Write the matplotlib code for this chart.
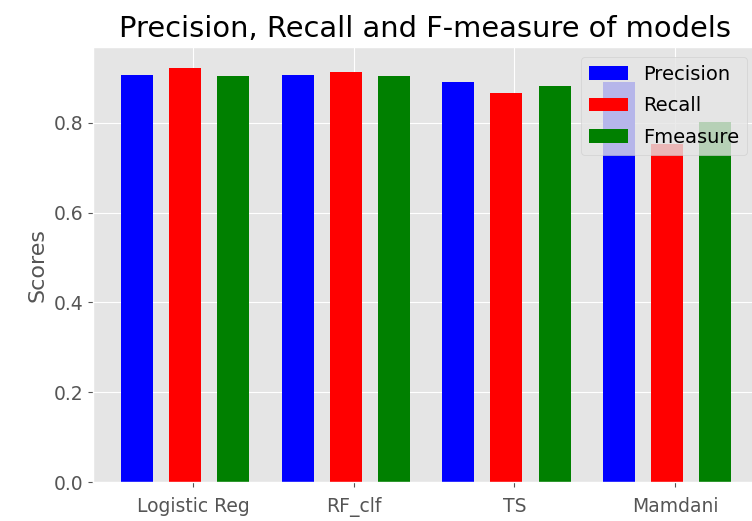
import matplotlib
matplotlib.use("Agg")
import matplotlib.pyplot as plt
import numpy as np

# Scores
models = ["Logistic Reg", "RF_clf", "TS", "Mamdani"]
precision = [0.906, 0.906, 0.892, 0.892]
recall = [0.923, 0.914, 0.866, 0.754]
fmeasure = [0.905, 0.905, 0.883, 0.803]

plt.style.use("ggplot")
plt.rcParams["font.size"] = 13.5

fig = plt.figure(figsize=(7.52, 5.21), dpi=100)
ax = fig.add_axes([93 / 752, 39 / 521, (757 - 93) / 752, (482 - 47) / 521])

x = np.arange(len(models))
w = 0.2
ax.bar(x, precision, width=w, align="edge", color="blue", label="Precision")
ax.bar(x + 0.3, recall, width=w, align="edge", color="red", label="Recall")
ax.bar(x + 0.6, fmeasure, width=w, align="edge", color="green", label="Fmeasure")

ax.set_xticks(x + 0.45)
ax.set_xticklabels(models)
ax.tick_params(axis="x", pad=7)
ax.set_xlim(-0.174, 3.96)
ax.set_ylabel("Scores", fontsize=16)
ax.set_title("Precision, Recall and F-measure of models", fontsize=20.8, pad=7)
ax.legend(loc="upper right", fontsize=14, labelspacing=0.65)

fig.savefig("out.png", dpi=100)
